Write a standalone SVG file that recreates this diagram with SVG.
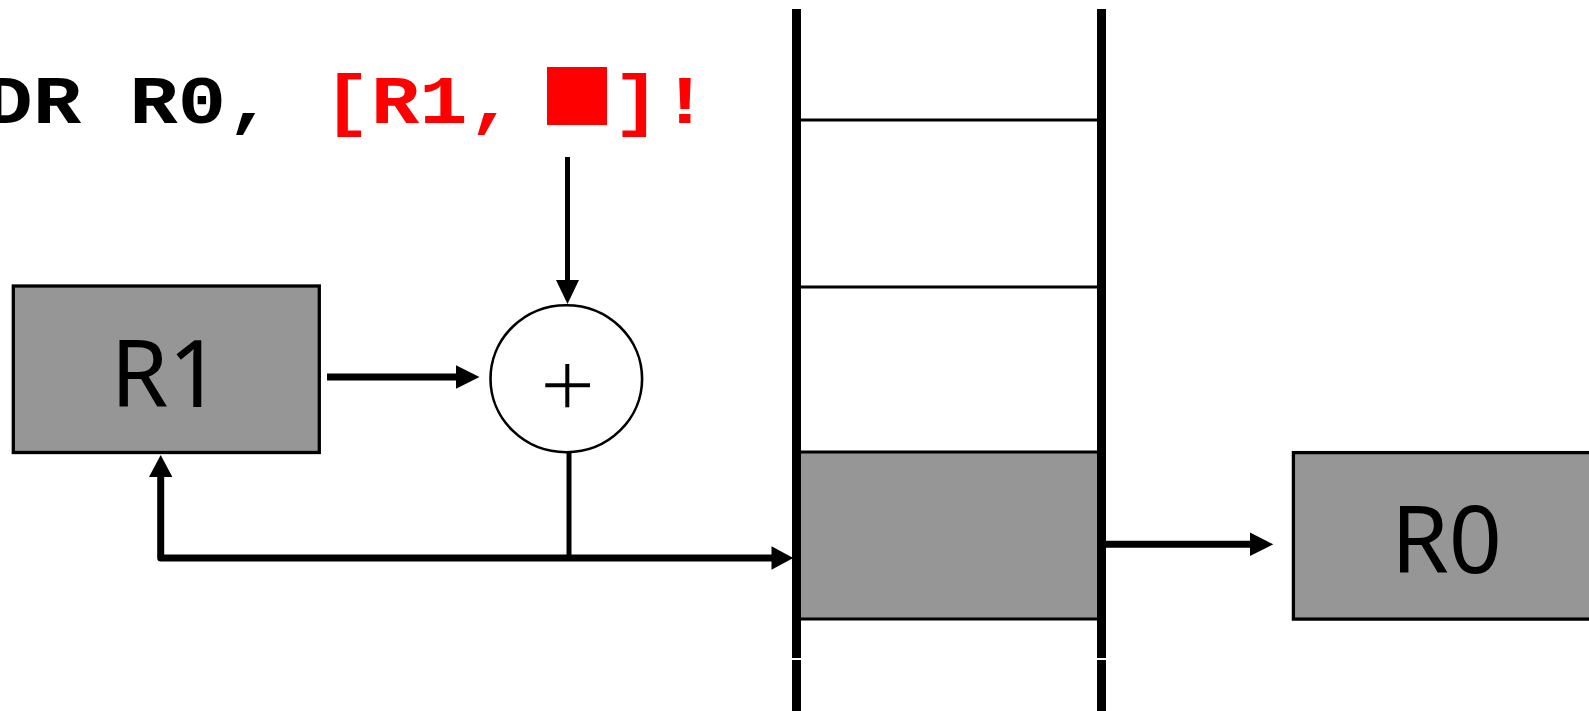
<svg xmlns="http://www.w3.org/2000/svg" width="1589" height="711" viewBox="0 0 1589 711">
<style>
.reg{fill:#969696;stroke:#000;stroke-width:3.3}
.lbl{font-family:"Noto Sans","DejaVu Sans",sans-serif;font-size:93px;fill:#000;text-anchor:middle}
.code{font-family:"Liberation Mono","Courier New",monospace;font-weight:bold;font-size:80.5px}
.bar{stroke:#000;stroke-width:9;fill:none}
.row{stroke:#000;stroke-width:3;fill:none}
.wire{stroke:#000;stroke-width:7;fill:none;stroke-linejoin:round}
.thin{stroke:#000;stroke-width:5;fill:none}
.head{fill:#000;stroke:none}
</style>
<rect width="1589" height="711" fill="#fff"/>
<g id="instruction">
<g transform="translate(0,122.5) scale(1,0.85)">
<text class="code" x="-63.7" y="0" fill="#000">LDR R0,</text>
<text class="code" x="322.7" y="0" fill="#f00">[R1,</text>
<text class="code" x="612.5" y="0" fill="#f00">]!</text>
</g>
<rect x="547" y="67" width="60" height="58" fill="#f00"/>
</g>
<g id="memory">
<rect x="801" y="452" width="296" height="167" fill="#969696"/>
<line class="row" x1="801" y1="120" x2="1097" y2="120"/>
<line class="row" x1="801" y1="287" x2="1097" y2="287"/>
<line class="row" x1="801" y1="452" x2="1097" y2="452"/>
<line class="row" x1="801" y1="619" x2="1097" y2="619"/>
<line class="bar" x1="796.5" y1="9" x2="796.5" y2="658"/>
<line class="bar" x1="796.5" y1="660" x2="796.5" y2="711"/>
<line class="bar" x1="1101.5" y1="9" x2="1101.5" y2="658"/>
<line class="bar" x1="1101.5" y1="660" x2="1101.5" y2="711"/>
</g>
<g id="R1">
<rect class="reg" x="13.3" y="286" width="306" height="166.5"/>
<text class="lbl" x="166" y="406.5">R1</text>
</g>
<g id="adder">
<ellipse cx="566.3" cy="378.7" rx="75.8" ry="73.5" fill="#fff" stroke="#000" stroke-width="2.6"/>
<line x1="545.3" y1="385.3" x2="590" y2="385.3" stroke="#000" stroke-width="4"/>
<line x1="567.3" y1="364" x2="567.3" y2="407.3" stroke="#000" stroke-width="4"/>
</g>
<g id="R0">
<rect class="reg" x="1293.4" y="452.6" width="306" height="166.5"/>
<text class="lbl" x="1446.5" y="572.7">R0</text>
</g>
<g id="connectors">
<line class="thin" x1="567.5" y1="157" x2="567.5" y2="284"/>
<polygon class="head" points="556,280 579,280 567.5,304"/>
<line class="wire" x1="327" y1="377" x2="460" y2="377"/>
<polygon class="head" points="456,365.3 456,388.7 479.5,377"/>
<line class="thin" x1="569" y1="453" x2="569" y2="558"/>
<path class="wire" d="M774,558 L160.7,558 L160.7,474"/>
<polygon class="head" points="149,477 172.4,477 160.7,455"/>
<polygon class="head" points="771.5,546.3 771.5,569.7 793.3,558"/>
<line class="wire" x1="1106" y1="544.3" x2="1253" y2="544.3"/>
<polygon class="head" points="1250,532.6 1250,556 1273.3,544.3"/>
</g>
</svg>
